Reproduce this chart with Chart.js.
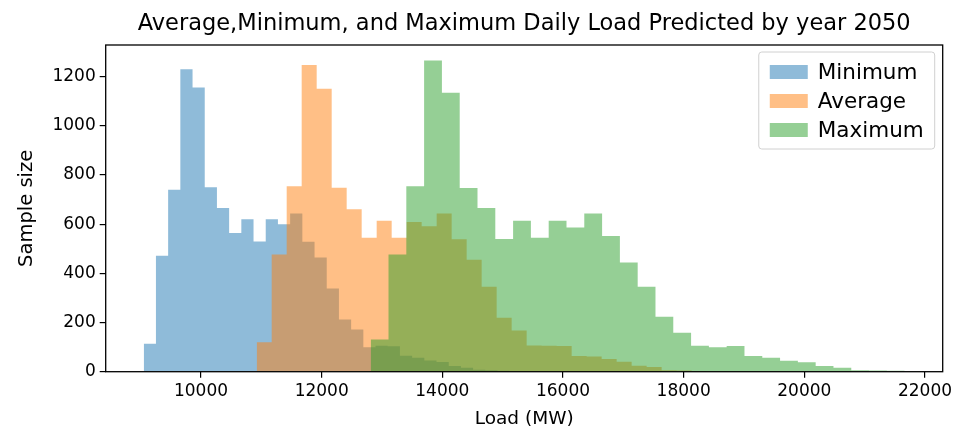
<!DOCTYPE html>
<html>
<head>
<meta charset="utf-8">
<script src="https://cdn.jsdelivr.net/npm/chart.js@4.4.1/dist/chart.umd.min.js"></script>
<style>
  html, body { margin: 0; padding: 0; background: #fff; }
</style>
</head>
<body>
<canvas id="myChart" width="960" height="441"></canvas>
<script>
// histogram bins: 30 per series, start + width in MW
var minStart = 9051, minWidth = 202.2;
var avgStart = 10923, avgWidth = 248.6;
var maxStart = 12813, maxWidth = 295.0;

var minCounts = [114, 471, 740, 1230, 1155, 750, 666, 564, 620, 529, 620, 599, 643, 528, 464, 338, 212, 172, 99, 105, 103, 65, 57, 46, 39, 23, 16, 8, 6, 4];
var avgCounts = [120, 476, 754, 1247, 1150, 748, 660, 545, 614, 545, 609, 591, 643, 539, 455, 345, 219, 167, 107, 105, 104, 64, 62, 52, 40, 24, 19, 6, 5, 3];
var maxCounts = [131, 476, 754, 1265, 1134, 747, 666, 540, 614, 545, 614, 586, 643, 552, 444, 345, 223, 158, 106, 99, 104, 64, 57, 45, 38, 23, 16, 6, 5, 4];

var seriesLabels = ['Minimum', 'Average', 'Maximum'];
var xTicks = [10000, 12000, 14000, 16000, 18000, 20000, 22000];
var yTicks = [0, 200, 400, 600, 800, 1000, 1200];

var chartTitle = 'Average,Minimum, and Maximum Daily Load Predicted by year 2050';
var xLabel = 'Load (MW)';
var yLabel = 'Sample size';

var FONT = '"DejaVu Sans", "Liberation Sans", sans-serif';

// bars as stepped, filled lines
function histPoints(start, width, counts) {
    var pts = counts.map(function (c, i) {
        return { x: start + i * width, y: c };
    });
    pts.push({ x: start + counts.length * width, y: 0 });
    return pts;
}

// matplotlib style 5% margins
var xLo = minStart, xHi = maxStart + maxCounts.length * maxWidth;
var xPad = (xHi - xLo) * 0.05;
var yTop = Math.max.apply(null, minCounts.concat(avgCounts, maxCounts)) * 1.05;

// title over the axes
var titlePlugin = {
    id: 'axTitle',
    afterDraw: function (chart) {
        var ctx = chart.ctx, a = chart.chartArea;
        ctx.save();
        ctx.font = '22.5px ' + FONT;
        ctx.fillStyle = '#000';
        ctx.textAlign = 'center';
        ctx.textBaseline = 'alphabetic';
        ctx.fillText(chartTitle, (a.left + a.right) / 2, 30);
        ctx.restore();
    }
};

// box round the axes
var framePlugin = {
    id: 'frame',
    afterDatasetsDraw: function (chart) {
        var ctx = chart.ctx, a = chart.chartArea;
        ctx.save();
        ctx.strokeStyle = '#000';
        ctx.lineWidth = 1.3;
        ctx.strokeRect(a.left, a.top, a.right - a.left, a.bottom - a.top);
        ctx.restore();
    }
};

// legend, upper right
var legendPlugin = {
    id: 'boxLegend',
    afterDraw: function (chart) {
        var ctx = chart.ctx, a = chart.chartArea;
        var ds = chart.data.datasets;
        ctx.save();
        ctx.font = '21.5px ' + FONT;
        var tw = 0;
        ds.forEach(function (d) { tw = Math.max(tw, ctx.measureText(d.label).width); });
        var w = 60 + tw + 10, h = 97;
        var right = a.right - 8, top = a.top + 7, left = right - w;
        ctx.beginPath();
        ctx.roundRect(left, top, w, h, 3);
        ctx.fillStyle = 'rgba(255,255,255,0.8)';
        ctx.fill();
        ctx.strokeStyle = '#d0d0d0';
        ctx.lineWidth = 1;
        ctx.stroke();
        ctx.textBaseline = 'middle';
        ctx.textAlign = 'left';
        ds.forEach(function (d, i) {
            var cy = top + 20 + i * 29;
            ctx.fillStyle = d.backgroundColor;
            ctx.fillRect(left + 11, cy - 7, 38, 14);
            ctx.fillStyle = '#000';
            ctx.fillText(d.label, left + 59, cy + 1);
        });
        ctx.restore();
    }
};

var ctx = document.getElementById('myChart');
var chart = new Chart(ctx, {
    type: 'line',
    data: {
        datasets: [{
            label: seriesLabels[0],
            data: histPoints(minStart, minWidth, minCounts),
            backgroundColor: 'rgba(31,119,180,0.5)',
            order: 3
        }, {
            label: seriesLabels[1],
            data: histPoints(avgStart, avgWidth, avgCounts),
            backgroundColor: 'rgba(255,127,14,0.5)',
            order: 2
        }, {
            label: seriesLabels[2],
            data: histPoints(maxStart, maxWidth, maxCounts),
            backgroundColor: 'rgba(44,160,44,0.5)',
            order: 1
        }]
    },
    options: {
        responsive: false,
        animation: false,
        devicePixelRatio: 1,
        datasets: {
            line: {
                stepped: true,
                fill: 'origin',
                borderWidth: 0,
                borderColor: 'rgba(0,0,0,0)',
                pointRadius: 0,
                pointHoverRadius: 0
            }
        },
        layout: { padding: { top: 45, right: 17.3, bottom: 0, left: 0 } },
        plugins: {
            legend: { display: false },
            title: { display: false },
            tooltip: { enabled: false }
        },
        scales: {
            x: {
                type: 'linear',
                min: xLo - xPad,
                max: xHi + xPad,
                border: { display: false },
                grid: { drawOnChartArea: false, drawTicks: true, tickLength: 6, color: '#000', lineWidth: 1.2 },
                ticks: {
                    color: '#000',
                    font: { family: FONT, size: 17 },
                    padding: 4,
                    maxRotation: 0,
                    autoSkip: false,
                    callback: function (v) { return String(v); }
                },
                title: {
                    display: true,
                    text: xLabel,
                    color: '#000',
                    font: { family: FONT, size: 18.5 },
                    padding: { top: 0, bottom: 11 }
                },
                afterBuildTicks: function (s) {
                    s.ticks = xTicks.map(function (v) { return { value: v }; });
                },
                afterFit: function (s) {
                    s.height = 69.3;
                    s.paddingLeft = 0;
                    s.paddingRight = 0;
                }
            },
            y: {
                min: 0,
                max: yTop,
                border: { display: false },
                grid: { drawOnChartArea: false, drawTicks: true, tickLength: 6, color: '#000', lineWidth: 1.2 },
                ticks: {
                    color: '#000',
                    font: { family: FONT, size: 17 },
                    padding: 4,
                    callback: function (v) { return String(v); }
                },
                title: {
                    display: true,
                    text: yLabel,
                    color: '#000',
                    font: { family: FONT, size: 19.5 },
                    padding: { top: 15, bottom: 0 }
                },
                afterBuildTicks: function (s) {
                    s.ticks = yTicks.map(function (v) { return { value: v }; });
                },
                afterFit: function (s) {
                    s.width = 105.7;
                    s.paddingTop = 0;
                    s.paddingBottom = 0;
                }
            }
        }
    },
    plugins: [framePlugin, titlePlugin, legendPlugin]
});
</script>
</body>
</html>
